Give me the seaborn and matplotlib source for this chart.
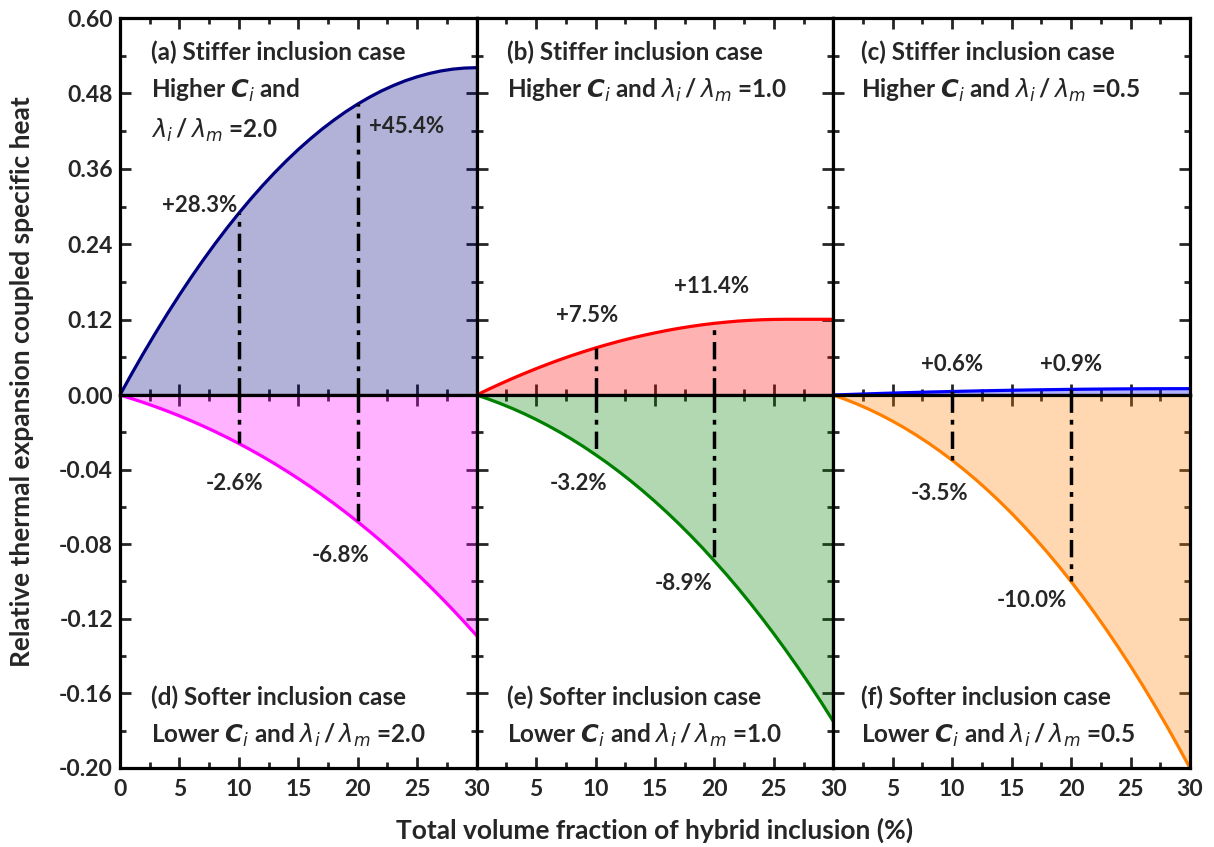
import matplotlib
matplotlib.use("Agg")
import matplotlib.pyplot as plt
import seaborn as sns
from matplotlib.ticker import MultipleLocator, FixedLocator

# ---------------- data ----------------
volume_fraction = list(range(0, 31))

stiff_lam20 = [0, 0.0342, 0.0672, 0.0990, 0.1297, 0.1592, 0.1876, 0.2148, 0.2408, 0.2657,
               0.2894, 0.3120, 0.3334, 0.3537, 0.3728, 0.3908, 0.4075, 0.4232, 0.4376, 0.4510,
               0.4631, 0.4741, 0.4840, 0.4926, 0.5002, 0.5065, 0.5117, 0.5158, 0.5187, 0.5204, 0.5210]
stiff_lam10 = [0, 0.0091, 0.0178, 0.0262, 0.0342, 0.0419, 0.0492, 0.0562, 0.0628, 0.0690,
               0.0749, 0.0804, 0.0856, 0.0904, 0.0948, 0.0989, 0.1027, 0.1061, 0.1091, 0.1118,
               0.1141, 0.1160, 0.1177, 0.1189, 0.1198, 0.1203, 0.1205, 0.1205, 0.1205, 0.1205, 0.1205]
stiff_lam05 = [0, 0.00066, 0.0013, 0.00192, 0.00251, 0.00309, 0.00364, 0.00416, 0.00467, 0.00515,
               0.00561, 0.00605, 0.00646, 0.00686, 0.00723, 0.00758, 0.0079, 0.0082, 0.00848, 0.00874,
               0.00898, 0.00919, 0.00938, 0.00955, 0.0097, 0.00982, 0.00992, 0.0100, 0.01006, 0.01009, 0.0101]
soft_lam20 = [0, -0.00197, -0.00406, -0.00630, -0.00867, -0.01119, -0.01385, -0.01666, -0.01962, -0.02273,
              -0.0260, -0.02943, -0.03302, -0.03678, -0.04071, -0.04481, -0.04909, -0.05354, -0.05818, -0.06299,
              -0.0680, -0.07320, -0.07858, -0.08417, -0.08995, -0.09594, -0.10213, -0.10853, -0.11514, -0.12196, -0.1290]
soft_lam10 = [0, -0.00219, -0.00459, -0.00720, -0.01004, -0.01311, -0.01640, -0.01993, -0.02370, -0.02771,
              -0.0320, -0.03647, -0.04123, -0.04625, -0.05153, -0.05708, -0.06289, -0.06898, -0.07535, -0.08200,
              -0.0890, -0.09616, -0.10368, -0.11150, -0.11962, -0.12805, -0.13678, -0.14583, -0.15520, -0.16489, -0.1750]
soft_lam05 = [0, -0.00229, -0.00484, -0.00765, -0.01072, -0.01406, -0.01768, -0.02158, -0.02576, -0.03024,
              -0.0350, -0.04007, -0.04544, -0.05113, -0.05712, -0.06344, -0.07008, -0.07706, -0.08436, -0.09201,
              -0.1000, -0.10835, -0.11704, -0.12610, -0.13552, -0.14532, -0.15548, -0.16603, -0.17696, -0.18829, -0.2000]

marked_fractions = [10, 20]
stiff_lam20_labels = ["+28.3%", "+45.4%"]
stiff_lam10_labels = ["+7.5%", "+11.4%"]
stiff_lam05_labels = ["+0.6%", "+0.9%"]
soft_lam20_labels = ["-2.6%", "-6.8%"]
soft_lam10_labels = ["-3.2%", "-8.9%"]
soft_lam05_labels = ["-3.5%", "-10.0%"]

top_yticks = [0.00, 0.12, 0.24, 0.36, 0.48, 0.60]
bottom_yticks = [-0.20, -0.16, -0.12, -0.08, -0.04]
xticks = [0, 5, 10, 15, 20, 25, 30]

# ---------------- style ----------------
sns.set_theme(style="ticks")
plt.rcParams['font.family'] = ['Lato', 'DejaVu Sans']
plt.rcParams['font.weight'] = 'bold'
plt.rcParams['axes.unicode_minus'] = False
plt.rcParams['mathtext.fontset'] = 'custom'
plt.rcParams['mathtext.rm'] = 'Lato:bold'
plt.rcParams['mathtext.bf'] = 'Lato:bold'
plt.rcParams['mathtext.it'] = 'DejaVu Sans:style=italic:weight=normal'
plt.rcParams['mathtext.bfit'] = 'DejaVu Sans:style=italic:weight=bold'

CI = r"$\mathbfit{C}_i$"
LAM = r"$\lambda_i\,/\,\lambda_m$"

panels = [
    dict(row=0, col=0, y=stiff_lam20, color="#000080", labels=stiff_lam20_labels,
         pos=[(6.7, 0.302), (24.1, 0.428)],
         title=["(a) Stiffer inclusion case", "Higher " + CI + " and", LAM + " =2.0"]),
    dict(row=0, col=1, y=stiff_lam10, color="#ff0000", labels=stiff_lam10_labels,
         pos=[(9.3, 0.127), (19.8, 0.172)],
         title=["(b) Stiffer inclusion case", "Higher " + CI + " and " + LAM + " =1.0"]),
    dict(row=0, col=2, y=stiff_lam05, color="#0000ff", labels=stiff_lam05_labels,
         pos=[(10.0, 0.049), (20.0, 0.049)],
         title=["(c) Stiffer inclusion case", "Higher " + CI + " and " + LAM + " =0.5"]),
    dict(row=1, col=0, y=soft_lam20, color="#ff00ff", labels=soft_lam20_labels,
         pos=[(9.6, -0.0472), (18.6, -0.0858)],
         title=["(d) Softer inclusion case", "Lower " + CI + " and " + LAM + " =2.0"]),
    dict(row=1, col=1, y=soft_lam10, color="#008000", labels=soft_lam10_labels,
         pos=[(8.6, -0.0477), (17.4, -0.101)],
         title=["(e) Softer inclusion case", "Lower " + CI + " and " + LAM + " =1.0"]),
    dict(row=1, col=2, y=soft_lam05, color="#ff8000", labels=soft_lam05_labels,
         pos=[(8.9, -0.0526), (16.7, -0.110)],
         title=["(f) Softer inclusion case", "Lower " + CI + " and " + LAM + " =0.5"]),
]

fig, axes = plt.subplots(2, 3, figsize=(12.14, 8.47), dpi=100,
                         gridspec_kw=dict(height_ratios=[377, 373], hspace=0, wspace=0))
fig.subplots_adjust(left=0.0988, right=0.9802, top=0.9787, bottom=0.0933)

title_x = {0: 0.088, 1: 0.085, 2: 0.079}
fs_title = 17.5
fs_pct = 16
fs_tick = 16.5

for p in panels:
    ax = axes[p['row'], p['col']]
    y = p['y']
    ax.fill_between(volume_fraction, 0, y, color=p['color'], alpha=0.3, linewidth=0, zorder=1)
    sns.lineplot(x=volume_fraction, y=y, ax=ax, color=p['color'], linewidth=2.3, zorder=3)
    for xm in marked_fractions:
        ym = y[volume_fraction.index(xm)]
        ax.vlines(xm, 0, ym, colors='black', linewidth=2.5,
                  linestyles=(0, (5, 2, 1.4, 2)), zorder=4)
    for lab, (lx, ly) in zip(p['labels'], p['pos']):
        ax.text(lx, ly, lab, ha='center', va='center', fontsize=fs_pct, fontweight='bold', zorder=5)

    ax.set_xlim(0, 30)
    ax.xaxis.set_major_locator(FixedLocator(xticks))
    ax.xaxis.set_minor_locator(MultipleLocator(2.5))
    if p['row'] == 0:
        ax.set_ylim(0, 0.60)
        ax.yaxis.set_major_locator(FixedLocator(top_yticks))
        ax.yaxis.set_minor_locator(MultipleLocator(0.06))
        ys = [0.91, 0.807, 0.703]
    else:
        ax.set_ylim(-0.20, 0)
        ax.yaxis.set_major_locator(FixedLocator(bottom_yticks + [0.0]))
        ax.yaxis.set_minor_locator(MultipleLocator(0.02))
        ys = [0.19, 0.088]
    for line, yy in zip(p['title'], ys):
        ax.text(title_x[p['col']], yy, line, transform=ax.transAxes, ha='left', va='center',
                fontsize=fs_title, fontweight='bold', zorder=6)

    ax.tick_params(which='both', direction='in', top=True, right=True, width=2.0,
                   labelsize=fs_tick)
    ax.tick_params(axis='x', pad=8)
    ax.tick_params(axis='y', pad=5)
    ax.tick_params(which='major', length=8)
    ax.tick_params(which='minor', length=4.5)
    for s in ax.spines.values():
        s.set_linewidth(2.3)
        s.set_color('black')
        s.set_zorder(10)
    ax.set_xlabel('')
    ax.set_ylabel('')

    if p['row'] == 0:
        ax.set_xticklabels([])
    else:
        xl = [str(v) for v in xticks]
        if p['col'] > 0:
            xl[0] = ''
        ax.set_xticklabels(xl, fontweight='bold')
    if p['col'] == 0:
        if p['row'] == 0:
            ax.set_yticklabels(["%.2f" % v for v in top_yticks], fontweight='bold')
        else:
            ax.set_yticklabels(["%.2f" % v for v in bottom_yticks] + [''], fontweight='bold')
    else:
        ax.set_yticklabels([])

fig.text(0.5395, 0.02, "Total volume fraction of hybrid inclusion (%)", ha='center', va='center',
         fontsize=19, fontweight='bold')
fig.text(0.018, 0.5496, "Relative thermal expansion coupled specific heat", ha='center', va='center',
         rotation=90, fontsize=19, fontweight='bold')

fig.savefig("out.png", dpi=100)
